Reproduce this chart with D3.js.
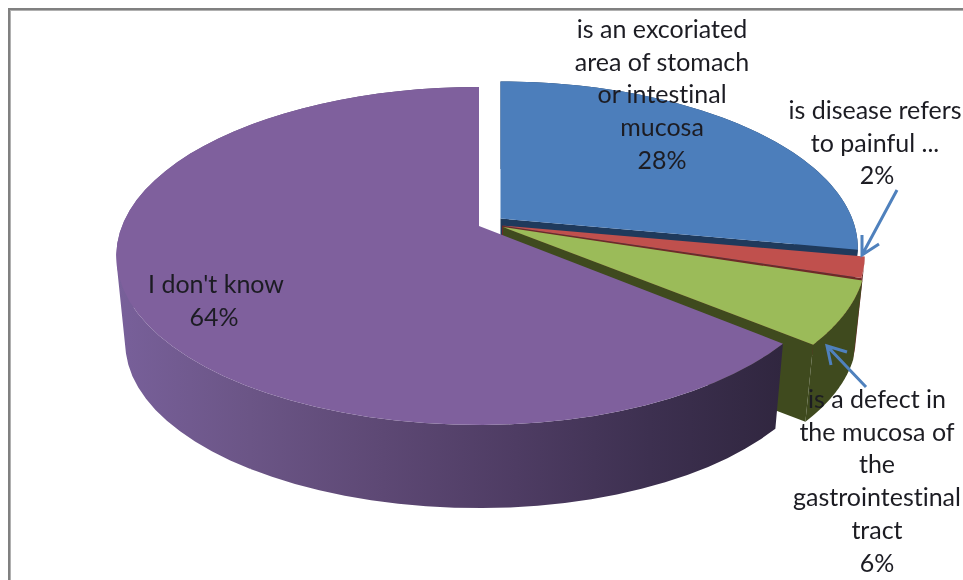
<!DOCTYPE html>
<html><head><meta charset="utf-8">
<script src="https://d3js.org/d3.v7.min.js"></script>
<style>html,body{margin:0;padding:0;background:#fff;overflow:hidden}svg{display:block}text{font-variant-ligatures:none}</style>
</head><body><svg id="c" width="963" height="580"></svg>
<script>
const categories = ["is an excoriated area of stomach or intestinal mucosa","is disease refers to painful ...","is a defect in the mucosa of the gastrointestinal tract","I don't know"];
const values = [28, 2, 6, 64];
const percentLabels = ["28%","2%","6%","64%"];
const labelLines = [
  ["is an excoriated","area of stomach","or intestinal","mucosa"],
  ["is disease refers","to painful ..."],
  ["is a defect in","the mucosa of","the","gastrointestinal","tract"],
  ["I don't know"]
];
const topColors = ["#4c7ebb","#c0504d","#9bbb59","#7f609d"];
const wallColors = ["#1f3a5c","#6e2a28","#3f4a1e","url(#wall)"];

const svg = d3.select("#c");
const a=357, b=163.7, q=0.1775, bottomScale=0.975;
const apex=[[500.5,218.5],[502,225.5],[503,227],[479,226]];
const yScale=[0.985,0.98,1,1];
const xRight=[0.985,1,1,0.98];
const depth=[84,84,80,88];

const pie=d3.pie().sort(null).value(d=>d).startAngle(0).endAngle(2*Math.PI);
const arcs=pie(values);

function proj(i,ang,bottom){
  const X=Math.sin(ang), v=-Math.cos(ang), den=1-q*v, s=bottom?bottomScale:1;
  const xs=X>0?xRight[i]:1;
  return [apex[i][0]+s*xs*a*X/den, apex[i][1]+s*yScale[i]*b*v/den+(bottom?depth[i]:0)];
}
const line=d3.line();
const rim=(i,a0,a1,bottom)=>d3.range(0,61).map(k=>proj(i,a0+(a1-a0)*k/60,bottom));
const bottomApex=i=>[apex[i][0],apex[i][1]+depth[i]];

const defs=svg.append("defs");
const g=defs.append("linearGradient").attr("id","wall").attr("gradientUnits","userSpaceOnUse")
 .attr("x1",117).attr("x2",783).attr("y1",0).attr("y2",0);
[[0,"#78609a"],[0.2,"#6b5586"],[0.4,"#5d4874"],[0.6,"#4e3c63"],[0.8,"#3d3050"],[1,"#30263f"]]
 .forEach(s=>g.append("stop").attr("offset",s[0]).attr("stop-color",s[1]));
const blur=defs.append("filter").attr("id","soft");
blur.append("feGaussianBlur").attr("stdDeviation",0.45);

svg.append("rect").attr("x",9).attr("y",9).attr("width",970).attr("height",600)
 .attr("fill","#fff").attr("stroke","#808080").attr("stroke-width",2);
svg.append("rect").attr("x",10.5).attr("y",10.5).attr("width",970).attr("height",600)
 .attr("fill","none").attr("stroke","#b0b0b0").attr("stroke-width",1);

arcs.forEach((d,i)=>{
  const a0=d.startAngle,a1=d.endAngle;
  const up=rim(i,a0,a1,false), down=rim(i,a0,a1,true);
  // one path of like-wound quads: the silhouette between rim and base fills without seams
  const quads=d3.range(0,60).map(k=>{
    const p=[up[k],up[k+1],down[k+1],down[k]];
    return line(d3.polygonArea(p)<0?p.reverse():p)+"Z";
  }).join("");
  svg.append("path").attr("class","wall").attr("d",quads).attr("fill",wallColors[i]);
  if(i<3){
    const face=[apex[i],proj(i,a1,false),proj(i,a1,true),bottomApex(i)];
    svg.append("path").attr("class","face").attr("d",line(face)+"Z").attr("fill",wallColors[i]);
  }
  svg.append("path").attr("class","top").attr("d",line([apex[i]].concat(up))+"Z").attr("fill",topColors[i]);
});

// leader arrows
const arrowColor="#4f81bd";
const arrows=[
 {from:[897,190],to:[862,255],b1:[862,235],b2:[879,244]},
 {from:[866,387],to:[827,346],b1:[847,352],b2:[831,365]}
];
arrows.forEach(r=>{
  svg.append("path").attr("d",line([r.from,r.to])+line([r.b1,r.to,r.b2]))
   .attr("fill","none").attr("stroke",arrowColor).attr("stroke-width",3);
});

// labels
const fontFamily="Lato, 'Open Sans', sans-serif";
const lineHeight=32.7;
const labelX=[[662,662,662,662,662],[875,875,877],[877,877,877,877,877,877],[216,214]];
const labelY=[38,119,408,293];
arcs.forEach((d,i)=>{
  const lines=labelLines[i].concat([percentLabels[i]]);
  const t=svg.append("text").attr("font-family",fontFamily).attr("font-size",25).attr("fill","#1c1c24")
    .attr("text-anchor","middle").attr("filter","url(#soft)");
  lines.forEach((s,k)=>t.append("tspan").attr("x",labelX[i][k]).attr("y",labelY[i]+k*lineHeight).text(s));
});
</script></body></html>
